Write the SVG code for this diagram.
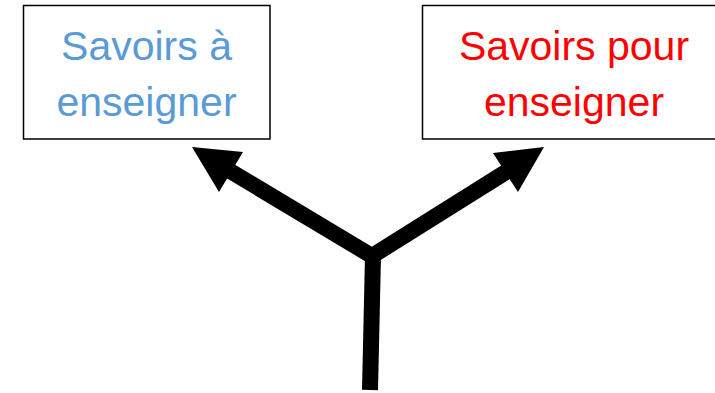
<svg xmlns="http://www.w3.org/2000/svg" width="715" height="393" viewBox="0 0 715 393">
<style>
.box{fill:#fff;stroke:#000;stroke-width:1.5}
.t{font-family:"Liberation Sans",Arial,sans-serif;font-size:41px;text-anchor:middle}
.shaft{fill:none;stroke:#000;stroke-width:16;stroke-linejoin:miter;stroke-miterlimit:10}
.head{fill:#000}
</style>
<rect width="715" height="393" fill="#fff"/>
<g id="node-savoirs-a-enseigner">
<rect class="box" x="23.5" y="5.5" width="246.5" height="133.5"/>
<text class="t" x="146.5" y="60" fill="#5B9BD5">Savoirs à</text>
<text class="t" x="146.5" y="116" fill="#5B9BD5">enseigner</text>
</g>
<g id="node-savoirs-pour-enseigner">
<rect class="box" x="422.5" y="5.5" width="304" height="133.5"/>
<text class="t" x="574" y="60" fill="#FF0000">Savoirs pour</text>
<text class="t" x="574" y="116" fill="#FF0000">enseigner</text>
</g>
<g id="connectors">
<path class="shaft" d="M215,162 L372,256 L522,162"/>
<path class="shaft" d="M370,390 L373,256"/>
<polygon class="head" points="192,147 243,152 219,192"/>
<polygon class="head" points="544,147 493,153 518,192"/>
</g>
</svg>
